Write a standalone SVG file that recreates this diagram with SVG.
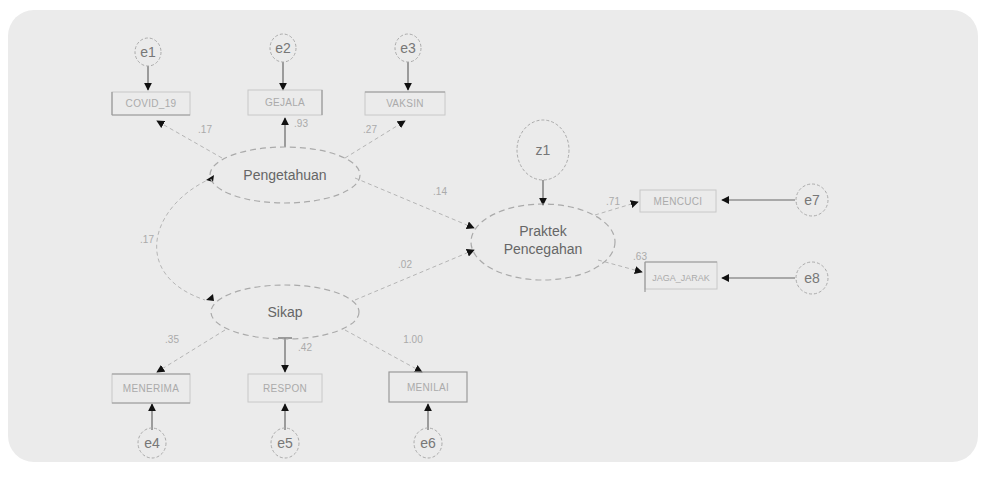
<svg xmlns="http://www.w3.org/2000/svg" width="981" height="488" viewBox="0 0 981 488">
<defs>
<marker id="ah" viewBox="0 0 10 10" refX="9" refY="5" markerWidth="8" markerHeight="8" orient="auto-start-reverse" markerUnits="userSpaceOnUse">
<path d="M0,0 L10,5 L0,10 z" fill="#111"/>
</marker>
<style>
.bg{fill:#ebebeb}
.err{fill:none;stroke:#aaa;stroke-width:1;stroke-dasharray:3,2}
.lat{fill:none;stroke:#aaa;stroke-width:1.2;stroke-dasharray:6,4}
.box{fill:none;stroke:#c8c8c8;stroke-width:1}
.dbox{fill:none;stroke:#999;stroke-width:1.2}
.sol{stroke:#666;stroke-width:1.2;fill:none}
.dash{stroke:#b5b5b5;stroke-width:1;fill:none;stroke-dasharray:4,3}
.t{font-family:"Liberation Sans",Arial,sans-serif;text-anchor:middle}
.et{font-size:14px;fill:#777}
.bt{font-size:10px;fill:#aaa;letter-spacing:0.3px}
.lt{font-size:14px;fill:#666}
.nt{font-size:10px;fill:#aaa}
</style>
</defs>
<rect x="0" y="0" width="981" height="488" fill="#ffffff"/>
<rect class="bg" x="8" y="10" width="970" height="452" rx="26"/>

<g id="connectors">
<line class="sol" x1="148" y1="66" x2="148" y2="90" marker-end="url(#ah)"/>
<line class="sol" x1="283" y1="62" x2="283" y2="90" marker-end="url(#ah)"/>
<line class="sol" x1="408" y1="62" x2="408" y2="90" marker-end="url(#ah)"/>
<line class="dash" x1="222" y1="158" x2="157" y2="121" marker-end="url(#ah)"/>
<line class="sol" x1="285" y1="147" x2="285" y2="118" marker-end="url(#ah)"/>
<line class="dash" x1="345" y1="158" x2="405" y2="121" marker-end="url(#ah)"/>
<path class="dash" d="M212,178 C150,205 130,275 205,300" />
<path d="M206,180 l8,-5 l-1,7 z M206,300 l7,-6 l1,7 z" fill="#111"/>
<line class="dash" x1="355" y1="178" x2="474" y2="228" marker-end="url(#ah)"/>
<line class="dash" x1="355" y1="300" x2="474" y2="250" marker-end="url(#ah)"/>
<line class="sol" x1="543" y1="180" x2="543" y2="205" marker-end="url(#ah)"/>
<line class="dash" x1="595" y1="215" x2="638" y2="202" marker-end="url(#ah)"/>
<line class="dash" x1="598" y1="260" x2="642" y2="272" marker-end="url(#ah)"/>
<line class="sol" x1="795" y1="200" x2="722" y2="200" marker-end="url(#ah)"/>
<line class="sol" x1="795" y1="278" x2="722" y2="278" marker-end="url(#ah)"/>
<line class="dash" x1="225" y1="330" x2="157" y2="372" marker-end="url(#ah)"/>
<line class="sol" x1="285" y1="338" x2="285" y2="372" marker-end="url(#ah)"/>
<line class="sol" x1="278" y1="338" x2="292" y2="338"/>
<line class="dash" x1="345" y1="330" x2="422" y2="372" marker-end="url(#ah)"/>
<line class="sol" x1="152" y1="430" x2="152" y2="404" marker-end="url(#ah)"/>
<line class="sol" x1="285" y1="430" x2="285" y2="404" marker-end="url(#ah)"/>
<line class="sol" x1="428" y1="430" x2="428" y2="404" marker-end="url(#ah)"/>
<text class="t nt" x="205" y="133">.17</text>
<text class="t nt" x="301" y="127">.93</text>
<text class="t nt" x="370" y="133">.27</text>
<text class="t nt" x="147" y="243">.17</text>
<text class="t nt" x="440" y="195">.14</text>
<text class="t nt" x="405" y="268">.02</text>
<text class="t nt" x="613" y="205">.71</text>
<text class="t nt" x="640" y="260">.63</text>
<text class="t nt" x="172" y="343">.35</text>
<text class="t nt" x="305" y="351">.42</text>
<text class="t nt" x="413" y="343">1.00</text>
</g>

<g id="e1"><ellipse class="err" cx="148" cy="52" rx="13" ry="14"/><text class="t et" x="148" y="57">e1</text></g>
<g id="e2"><ellipse class="err" cx="283" cy="48" rx="13" ry="14"/><text class="t et" x="283" y="53">e2</text></g>
<g id="e3"><ellipse class="err" cx="408" cy="48" rx="13" ry="14"/><text class="t et" x="408" y="53">e3</text></g>

<g id="covid"><rect class="box" x="112" y="92" width="78" height="23"/><line class="dbox" x1="112" y1="115" x2="190" y2="115"/><line class="dbox" x1="112" y1="92" x2="112" y2="115"/><text class="t bt" x="151" y="107">COVID_19</text></g>
<g id="gejala"><rect class="box" x="248" y="90" width="74" height="25"/><line class="dbox" x1="322" y1="90" x2="322" y2="115"/><text class="t bt" x="285" y="106">GEJALA</text></g>
<g id="vaksin"><rect class="box" x="365" y="92" width="80" height="23"/><line class="dbox" x1="365" y1="92" x2="445" y2="92"/><text class="t bt" x="405" y="107">VAKSIN</text></g>

<g id="pengetahuan"><ellipse class="lat" cx="285" cy="175" rx="75" ry="28"/><text class="t lt" x="285" y="180">Pengetahuan</text></g>
<g id="sikap"><ellipse class="lat" cx="285" cy="312" rx="74" ry="27"/><text class="t lt" x="285" y="317">Sikap</text></g>
<g id="praktek"><ellipse class="lat" cx="543" cy="242" rx="72" ry="38"/><text class="t lt" x="543" y="236">Praktek</text><text class="t lt" x="543" y="254">Pencegahan</text></g>
<g id="z1"><ellipse class="err" cx="543" cy="150" rx="26" ry="30"/><text class="t et" x="543" y="155">z1</text></g>

<g id="mencuci"><rect class="box" x="640" y="190" width="76" height="22"/><text class="t bt" x="678" y="205">MENCUCI</text></g>
<g id="jaga"><rect class="box" x="645" y="262" width="72" height="27"/><line class="dbox" x1="645" y1="262" x2="717" y2="262"/><line class="dbox" x1="645" y1="262" x2="645" y2="292"/><text class="t bt" x="681" y="281" style="font-size:9px;letter-spacing:0">JAGA_JARAK</text></g>
<g id="e7"><ellipse class="err" cx="812" cy="200" rx="16" ry="16"/><text class="t et" x="812" y="205">e7</text></g>
<g id="e8"><ellipse class="err" cx="812" cy="278" rx="16" ry="16"/><text class="t et" x="812" y="283">e8</text></g>

<g id="menerima"><rect class="box" x="112" y="374" width="78" height="29"/><line class="dbox" x1="112" y1="374" x2="190" y2="374"/><line class="dbox" x1="112" y1="403" x2="190" y2="403"/><text class="t bt" x="151" y="392">MENERIMA</text></g>
<g id="respon"><rect class="box" x="248" y="374" width="74" height="28"/><text class="t bt" x="285" y="392">RESPON</text></g>
<g id="menilai"><rect class="dbox" x="389" y="372" width="78" height="30"/><text class="t bt" x="428" y="391">MENILAI</text></g>

<g id="e4"><ellipse class="err" cx="152" cy="443" rx="14" ry="15"/><text class="t et" x="152" y="448">e4</text></g>
<g id="e5"><ellipse class="err" cx="285" cy="443" rx="14" ry="15"/><text class="t et" x="285" y="448">e5</text></g>
<g id="e6"><ellipse class="err" cx="428" cy="443" rx="14" ry="15"/><text class="t et" x="428" y="448">e6</text></g>
</svg>
